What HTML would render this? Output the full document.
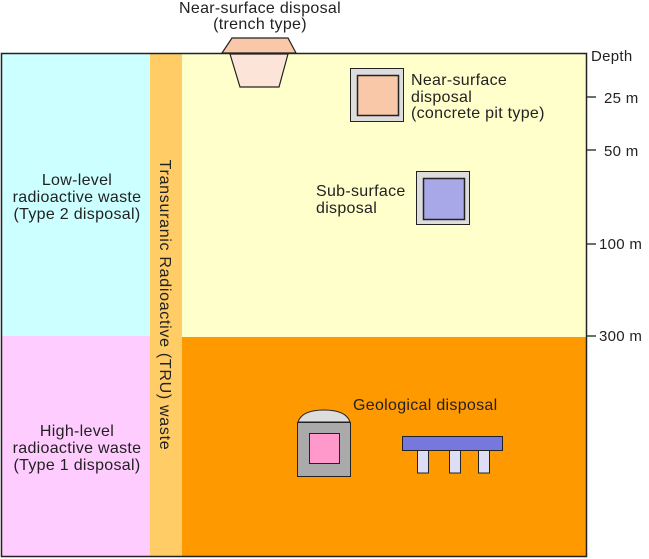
<!DOCTYPE html>
<html><head><meta charset="utf-8"><style>
html,body{margin:0;padding:0;background:#fff;}
svg{display:block;font-family:"Liberation Sans",sans-serif;}
text{font-size:16px;fill:#222;letter-spacing:0.3px;}
</style></head><body>
<svg width="649" height="559" viewBox="0 0 649 559" xmlns="http://www.w3.org/2000/svg">
<rect x="2" y="53" width="148" height="283" fill="#ccffff"/>
<rect x="2" y="336" width="148" height="221" fill="#ffccff"/>
<rect x="150" y="53" width="32" height="504" fill="#ffcc66"/>
<rect x="182" y="53" width="404" height="284" fill="#ffffcc"/>
<rect x="182" y="337" width="404" height="220" fill="#ff9900"/>
<rect x="1.5" y="53.5" width="585" height="503" fill="none" stroke="#222" stroke-width="1.5"/>
<polygon points="222,53 232,38 288,38 296,53" fill="#f8c8a8" stroke="#222" stroke-width="1.2"/>
<polygon points="230,54 288,54 279,87 240,87" fill="#fce4d8" stroke="#222" stroke-width="1.2"/>
<rect x="350.5" y="68.5" width="53" height="53" fill="#dddddd" stroke="#222"/>
<rect x="357.5" y="75.5" width="41" height="40" fill="#f8c8a8" stroke="#222" stroke-width="1.5"/>
<rect x="416.5" y="171.5" width="53" height="53" fill="#dddddd" stroke="#222"/>
<rect x="423.5" y="178.5" width="41" height="41" fill="#a8a8e8" stroke="#222" stroke-width="1.5"/>
<path d="M298,422 Q302,410 324,410 Q346,410 350,422 Z" fill="#dddddd" stroke="#222"/>
<rect x="297.5" y="422.5" width="53" height="54" fill="#aaaaaa" stroke="#222"/>
<rect x="309.5" y="433.5" width="30" height="30" fill="#ff99cc" stroke="#222"/>
<rect x="417.5" y="450" width="11" height="23" fill="#ddddf5" stroke="#222"/>
<rect x="449.5" y="450" width="11" height="23" fill="#ddddf5" stroke="#222"/>
<rect x="478.5" y="450" width="11" height="23" fill="#ddddf5" stroke="#222"/>
<rect x="402.5" y="436.5" width="100" height="14" fill="#7777dd" stroke="#222"/>
<g stroke="#2a4a2a" stroke-width="1.5">
<line x1="587" y1="97" x2="596" y2="97"/>
<line x1="587" y1="150" x2="596" y2="150"/>
<line x1="587" y1="244" x2="596" y2="244"/>
<line x1="587" y1="336" x2="596" y2="336"/>
</g>
<text x="591" y="61" style="font-size:15px">Depth</text>
<text x="604" y="103" style="font-size:15px">25 m</text>
<text x="604" y="156" style="font-size:15px">50 m</text>
<text x="599" y="249" style="font-size:15px">100 m</text>
<text x="599" y="341" style="font-size:15px">300 m</text>
<text x="260" y="13" text-anchor="middle">Near-surface disposal</text>
<text x="260" y="29" text-anchor="middle">(trench type)</text>
<text x="411" y="85">Near-surface</text>
<text x="411" y="102">disposal</text>
<text x="411" y="118">(concrete pit type)</text>
<text x="316" y="196">Sub-surface</text>
<text x="316" y="213">disposal</text>
<text x="353" y="410">Geological disposal</text>
<text x="77" y="185" text-anchor="middle">Low-level</text>
<text x="77" y="202" text-anchor="middle">radioactive waste</text>
<text x="77" y="219" text-anchor="middle">(Type 2 disposal)</text>
<text x="77" y="436" text-anchor="middle">High-level</text>
<text x="77" y="453" text-anchor="middle">radioactive waste</text>
<text x="77" y="470" text-anchor="middle">(Type 1 disposal)</text>
<text transform="translate(160,305) rotate(90)" text-anchor="middle" style="letter-spacing:0.7px">Transuranic Radioactive (TRU) waste</text>
</svg>
</body></html>
